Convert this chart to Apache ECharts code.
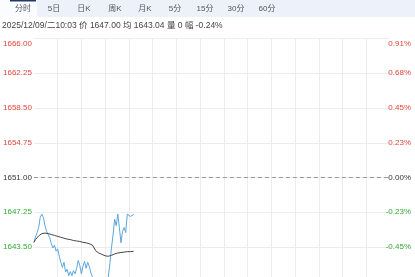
<!DOCTYPE html>
<html><head><meta charset="utf-8">
<script src="https://cdn.jsdelivr.net/npm/echarts@6/dist/echarts.min.js"></script>
<style>html,body{margin:0;padding:0;background:#fff;overflow:hidden;width:415px;height:277px}#c{width:415px;height:330px}</style>
</head><body><div id="c"></div>
<script>
const tabs = ['分时','5日','日K','周K','月K','5分','15分','30分','60分'];
const tabCenters = [23,54,84,115,145,175,205,236,267];
const infoText = '2025/12/09/二10:03 价 1647.00 均 1643.04 量 0 幅 -0.24%';
const prevClose = 1651;
const priceStep = 3.75;
const priceRange = 15;
const totalMinutes = 225;
const minuteStep = 15;
const price = [1644.0,1644.6,1645.05,1645.6,1646.7,1647.05,1646.7,1645.8,1645.2,1645.4,
1644.5,1643.85,1643.4,1643.7,1643.05,1643.3,1642.5,1641.85,1641.3,1641.85,
1640.8,1641.1,1640.4,1640.85,1640.4,1640.95,1640.6,1641.2,1642.05,1641.5,
1640.6,1641.4,1641.95,1641.2,1641.85,1641.4,1640.7,1640.3,1639.7,1639.3,
1639.0,1638.6,1638.9,1638.4,1638.7,1639.0,1639.5,1640.3,1641.7,1643.4,
1644.8,1646.5,1645.8,1647.05,1645.6,1643.95,1645.2,1645.6,1645.05,1647.05,
1647.05,1646.8,1647.0,1647.0];
const avg = [1644.0,1644.3,1644.5,1644.7,1644.85,1644.95,1645.0,1645.0,1645.0,1644.95,
1644.9,1644.85,1644.8,1644.75,1644.7,1644.65,1644.6,1644.55,1644.5,1644.45,
1644.4,1644.35,1644.3,1644.3,1644.25,1644.2,1644.2,1644.15,1644.1,1644.1,
1644.05,1644.0,1644.0,1643.95,1643.9,1643.85,1643.8,1643.7,1643.4,1643.1,
1642.95,1642.85,1642.75,1642.7,1642.6,1642.55,1642.5,1642.5,1642.5,1642.6,
1642.7,1642.75,1642.8,1642.85,1642.85,1642.9,1642.9,1642.95,1642.95,1643.0,
1643.0,1643.0,1643.04,1643.04];

const RED = '#e0443a', GREEN = '#34a835', BLACK = '#333';
const FONT = '"Liberation Sans","Noto Sans CJK SC",sans-serif';
function lblColor(v){ v = Number(v); return v > 1e-6 ? RED : (v < -1e-6 ? GREEN : BLACK); }

const graphic = [
  {type:'rect', shape:{x:0,y:0,width:415,height:17}, style:{fill:'#edf2fa'}, silent:true},
  {type:'rect', shape:{x:0,y:0,width:37,height:17}, style:{fill:'#fafcff'}, silent:true},
  {type:'rect', shape:{x:10,y:0,width:26,height:1.5}, style:{fill:'#23396b'}, silent:true}
];
tabs.forEach((t,i)=>graphic.push({type:'text', x:tabCenters[i], y:8.5, silent:true,
  style:{text:t, fill:'#555', fontSize:8, fontFamily:FONT, align:'center', verticalAlign:'middle'}}));
graphic.push({type:'text', x:2, y:26, silent:true,
  style:{text:infoText, fill:'#444', fontSize:8.5, fontFamily:FONT, align:'left', verticalAlign:'middle'}});

const chart = echarts.init(document.getElementById('c'));
chart.setOption({
  animation:false,
  graphic: graphic,
  grid:{left:33, top:38.5, width:357, height:278, containLabel:false},
  xAxis:{type:'value', min:0, max:totalMinutes, interval:minuteStep,
    axisLine:{show:false}, axisTick:{show:false}, axisLabel:{show:false},
    splitLine:{show:true, showMinLine:false, showMaxLine:false, lineStyle:{color:'#ececec', width:1}}},
  yAxis:[
    {type:'value', min:-priceRange, max:priceRange, interval:priceStep, position:'left',
     axisLine:{show:false}, axisTick:{show:false},
     splitLine:{show:true, lineStyle:{color:'#ececec', width:1}},
     axisLabel:{margin:2, fontSize:8, fontFamily:FONT, showMinLabel:false,
       color:(v)=>lblColor(v),
       formatter:(v)=>{ const s=(prevClose+v).toFixed(2); return Math.abs(v-priceRange)<1e-6 ? '{t|'+s+'}' : s; },
       rich:{t:{padding:[11,0,0,0], fontSize:8, fontFamily:FONT, color:RED}}}},
    {type:'value', min:-priceRange, max:priceRange, interval:priceStep, position:'right',
     axisLine:{show:false}, axisTick:{show:false}, splitLine:{show:false},
     axisLabel:{margin:21, align:'right', fontSize:8, fontFamily:FONT, showMinLabel:false,
       color:(v)=>lblColor(v),
       formatter:(v)=>{ const s=(v/prevClose*100).toFixed(2)+'%'; return Math.abs(v-priceRange)<1e-6 ? '{t|'+s+'}' : s; },
       rich:{t:{padding:[11,0,0,0], fontSize:8, fontFamily:FONT, color:RED}}}}
  ],
  series:[
    {type:'line', name:'价', data:price.map((p,i)=>[i, +(p-prevClose).toFixed(4)]), showSymbol:false, symbol:'none',
     lineStyle:{color:'#5aa6da', width:1}, itemStyle:{color:'#5aa6da'}, z:3,
     markLine:{silent:true, symbol:'none', label:{show:false},
       lineStyle:{color:'#999', type:[4,3], width:1}, data:[{yAxis:0}]}},
    {type:'line', name:'均', data:avg.map((p,i)=>[i, +(p-prevClose).toFixed(4)]), showSymbol:false, symbol:'none',
     lineStyle:{color:'#444', width:1}, itemStyle:{color:'#444'}, z:4}
  ]
});
</script></body></html>
